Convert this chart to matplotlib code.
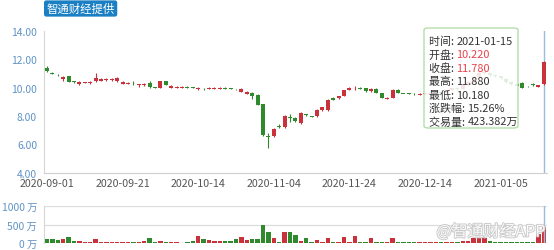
import matplotlib
matplotlib.use("Agg")
import matplotlib.pyplot as plt
import matplotlib.patheffects as pe
from matplotlib.patches import FancyBboxPatch
import numpy as np

plt.rcParams['font.family'] = ['Noto Sans CJK SC', 'DejaVu Sans']

# ---------------- data ----------------
opens = [11.35, 11.05, 10.92, 10.60, 10.80, 10.45, 10.25, 10.33, 10.32, 10.45,
         10.50, 10.52, 10.52, 10.45, 10.25, 10.25, 10.32, 10.15, 10.15, 10.35,
         10.02, 9.98, 10.45, 10.00, 9.97, 9.97, 10.05, 10.00, 9.92, 9.92,
         9.90, 9.92, 9.92, 10.00, 9.93, 9.90, 9.72, 9.58, 9.65, 9.50,
         8.85, 6.60, 6.55, 7.30, 7.20, 7.95, 7.85, 7.50, 8.10, 7.98,
         7.97, 8.40, 8.40, 9.30, 9.25, 9.40, 9.85, 9.95, 10.00, 9.95,
         9.75, 9.90, 9.60, 9.20, 9.30, 9.85, 9.57, 9.60, 9.58, 9.50,
         9.52, 9.55, 9.62, 9.70, 9.65, 9.80, 9.95, 9.90, 10.15, 10.40,
         10.75, 11.05, 11.05, 10.92, 10.80, 10.62, 10.40, 10.25, 10.35, 10.10,
         10.22, 10.05, 10.22]
closes = [11.15, 10.98, 10.88, 10.78, 10.40, 10.40, 10.40, 10.38, 10.40, 10.70,
          10.62, 10.62, 10.62, 10.65, 10.40, 10.35, 10.30, 10.25, 10.25, 10.05,
          10.00, 10.45, 10.18, 10.10, 10.07, 10.05, 9.98, 9.98, 9.96, 9.88,
          9.98, 10.00, 10.00, 9.93, 9.92, 9.88, 9.88, 9.72, 9.42, 8.78,
          6.62, 6.52, 7.10, 7.25, 8.00, 7.85, 7.62, 8.20, 8.05, 7.93,
          8.45, 8.60, 9.15, 9.12, 9.40, 9.80, 10.00, 10.00, 9.92, 9.75,
          9.92, 9.65, 9.28, 9.30, 9.85, 9.65, 9.55, 9.58, 9.52, 9.58,
          9.60, 9.62, 9.70, 9.65, 9.80, 9.95, 9.90, 10.15, 10.40, 10.75,
          11.05, 11.10, 10.92, 10.80, 10.65, 10.40, 10.25, 10.12, 9.98, 10.08,
          10.18, 10.15, 11.78]
highs = [11.50, 11.08, 10.95, 10.85, 10.82, 10.48, 10.45, 10.42, 10.45, 11.00,
         10.66, 10.65, 10.66, 10.75, 10.45, 10.40, 10.50, 10.28, 10.30, 10.45,
         10.05, 10.50, 10.50, 10.18, 10.10, 10.08, 10.08, 10.02, 10.05, 10.00,
         10.02, 10.02, 10.03, 10.02, 9.95, 9.92, 9.95, 9.78, 9.70, 9.55,
         8.85, 6.80, 7.15, 7.40, 8.05, 8.15, 7.90, 8.25, 8.15, 8.00,
         8.48, 8.62, 9.18, 9.35, 9.42, 9.85, 10.05, 10.12, 10.05, 9.98,
         9.95, 9.95, 9.62, 9.32, 9.88, 9.88, 9.58, 9.62, 9.62, 9.62,
         9.62, 9.65, 9.75, 9.78, 9.85, 10.00, 10.02, 10.20, 10.45, 10.80,
         11.15, 11.20, 11.10, 10.95, 10.85, 10.65, 10.45, 10.30, 10.40, 10.12,
         10.35, 10.18, 11.88]
lows = [11.10, 10.95, 10.85, 10.50, 10.38, 10.35, 10.18, 10.30, 10.28, 10.40,
        10.45, 10.50, 10.50, 10.40, 10.22, 10.22, 10.15, 10.05, 10.10, 10.00,
        9.98, 9.95, 10.15, 9.98, 9.95, 9.95, 9.95, 9.96, 9.85, 9.85,
        9.88, 9.90, 9.90, 9.90, 9.90, 9.85, 9.70, 9.55, 9.20, 8.75,
        6.55, 5.75, 6.50, 7.15, 7.15, 7.60, 7.58, 7.45, 8.00, 7.90,
        7.95, 8.38, 8.38, 9.10, 9.22, 9.38, 9.82, 9.85, 9.88, 9.72,
        9.72, 9.62, 9.25, 9.18, 9.28, 9.62, 9.52, 9.55, 9.50, 9.48,
        9.50, 9.52, 9.58, 9.60, 9.62, 9.75, 9.85, 9.88, 10.10, 10.35,
        10.70, 10.95, 10.85, 10.75, 10.60, 10.35, 10.20, 10.08, 9.95, 10.05,
        10.10, 10.02, 10.18]
volumes = [110, 115, 80, 110, 170, 65, 60, 35, 35, 100,
           40, 35, 35, 35, 35, 35, 35, 35, 45, 145,
           20, 55, 20, 35, 35, 10, 35, 45, 200, 110,
           90, 60, 60, 50, 50, 115, 170, 70, 110, 120,
           490, 310, 140, 40, 305, 305, 215, 65, 130, 25,
           90, 30, 135, 30, 40, 150, 40, 180, 30, 30,
           125, 35, 40, 30, 140, 30, 25, 20, 20, 25,
           30, 25, 20, 20, 30, 40, 30, 45, 60, 140,
           150, 135, 60, 40, 30, 35, 30, 25, 30, 20,
           25, 235, 423.382]
tick_idx = [0, 14, 28, 42, 56, 70, 84]
tick_labels = ['2020-09-01', '2020-09-21', '2020-10-14', '2020-11-04',
               '2020-11-24', '2020-12-14', '2021-01-05']
price_ticks = [4, 6, 8, 10, 12, 14]
vol_ticks = [0, 500, 1000]
vol_tick_labels = ['0 万', '500 万', '1000 万']
tooltip_rows = [('时间: ', '2021-01-15', '#333333'),
                ('开盘: ', '10.220', '#e8414b'),
                ('收盘: ', '11.780', '#e8414b'),
                ('最高: ', '11.880', '#333333'),
                ('最低: ', '10.180', '#333333'),
                ('涨跌幅: ', '15.26%', '#333333'),
                ('交易量: ', '423.382万', '#333333')]

# ---------------- style ----------------
RED = '#c9323b'
GREEN = '#2e8a2c'
AXC = '#5e92c6'
W, H = 554, 251
fig = plt.figure(figsize=(W / 100, H / 100), dpi=100)

def frac(l, t, r, b):
    return [l / W, 1 - b / H, (r - l) / W, (b - t) / H]

o = np.array(opens); c = np.array(closes)
hi = np.array(highs); lo = np.array(lows)
vol = np.array(volumes)
x = np.arange(len(o))
up = c >= o
cols = np.where(up, RED, GREEN)
xl = (-0.55, 92.6)

# main
ax = fig.add_axes(frac(44, 32, 547, 173.5))
ax.vlines(x, lo, hi, colors=cols, linewidth=0.8, zorder=2)
body_b = np.minimum(o, c)
body_h = np.maximum(np.abs(c - o), 0.04)
ax.bar(x, body_h, bottom=body_b, width=0.72, color=cols, linewidth=0, zorder=3)
ax.set_xlim(*xl)
ax.set_ylim(4, 14)
ax.set_yticks(price_ticks)
ax.set_yticklabels([f'{v:.2f}' for v in price_ticks])
ax.set_xticks(tick_idx)
ax.set_xticklabels(tick_labels)
ax.tick_params(axis='y', length=0, pad=5, labelsize=7.4, labelcolor=AXC)
ax.tick_params(axis='x', length=0, pad=4, labelsize=7.7, labelcolor='#555555')
for s in ['top', 'right']:
    ax.spines[s].set_visible(False)
ax.spines['left'].set_color('#d6d6d6')
ax.spines['bottom'].set_color('#cfcfcf')
ax.axvline(x[-1], color='#9dbbdc', linewidth=1.0, zorder=1)

# volume
av = fig.add_axes(frac(44, 207, 547, 244))
av.bar(x, vol, width=0.82, color=cols, linewidth=0, zorder=3)
av.set_xlim(*xl)
av.set_ylim(0, 1000)
av.set_yticks(vol_ticks)
av.set_yticklabels(vol_tick_labels)
av.set_xticks([])
av.tick_params(axis='y', length=0, pad=5, labelsize=7.4, labelcolor=AXC)
av.grid(axis='y', color='#dddddd', linewidth=0.9)
av.set_axisbelow(True)
for s in ['top', 'right', 'bottom']:
    av.spines[s].set_visible(False)
av.spines['left'].set_color('#d6d6d6')
av.axvline(x[-1], color='#9dbbdc', linewidth=1.0, zorder=4)

# badge
fig.text(46.5 / W, 1 - 9.5 / H, '智通财经提供', color='white', fontsize=8.2,
         va='center', ha='left',
         bbox=dict(boxstyle='round,pad=0.22,rounding_size=0.2',
                   facecolor='#1b7fc3', edgecolor='none'))

# tooltip
tip = FancyBboxPatch((424 / W, 1 - 129 / H), 94 / W, 100 / H,
                     boxstyle='round,pad=0,rounding_size=0.008',
                     transform=fig.transFigure, facecolor='white', alpha=0.86,
                     edgecolor='#a9d79b', linewidth=1.0, zorder=10)
fig.patches.append(tip)
fig.canvas.draw()
r = fig.canvas.get_renderer()
for k, (lab, val, vc) in enumerate(tooltip_rows):
    yy = 1 - (42 + k * 13.4) / H
    t = fig.text(429 / W, yy, lab, color='#333333', fontsize=7.9,
                 va='center', ha='left', zorder=11)
    bb = t.get_window_extent(renderer=r)
    fig.text(bb.x1 / W, yy, val, color=vc, fontsize=7.9,
             va='center', ha='left', zorder=11)

# watermark
fig.text(491 / W, 1 - 233 / H, '@智通财经APP', color='white', fontsize=11.5,
         va='center', ha='center', zorder=12, alpha=0.9,
         path_effects=[pe.withStroke(linewidth=1.3, foreground='#c4c4c4')])

fig.savefig('out.png', dpi=100)
